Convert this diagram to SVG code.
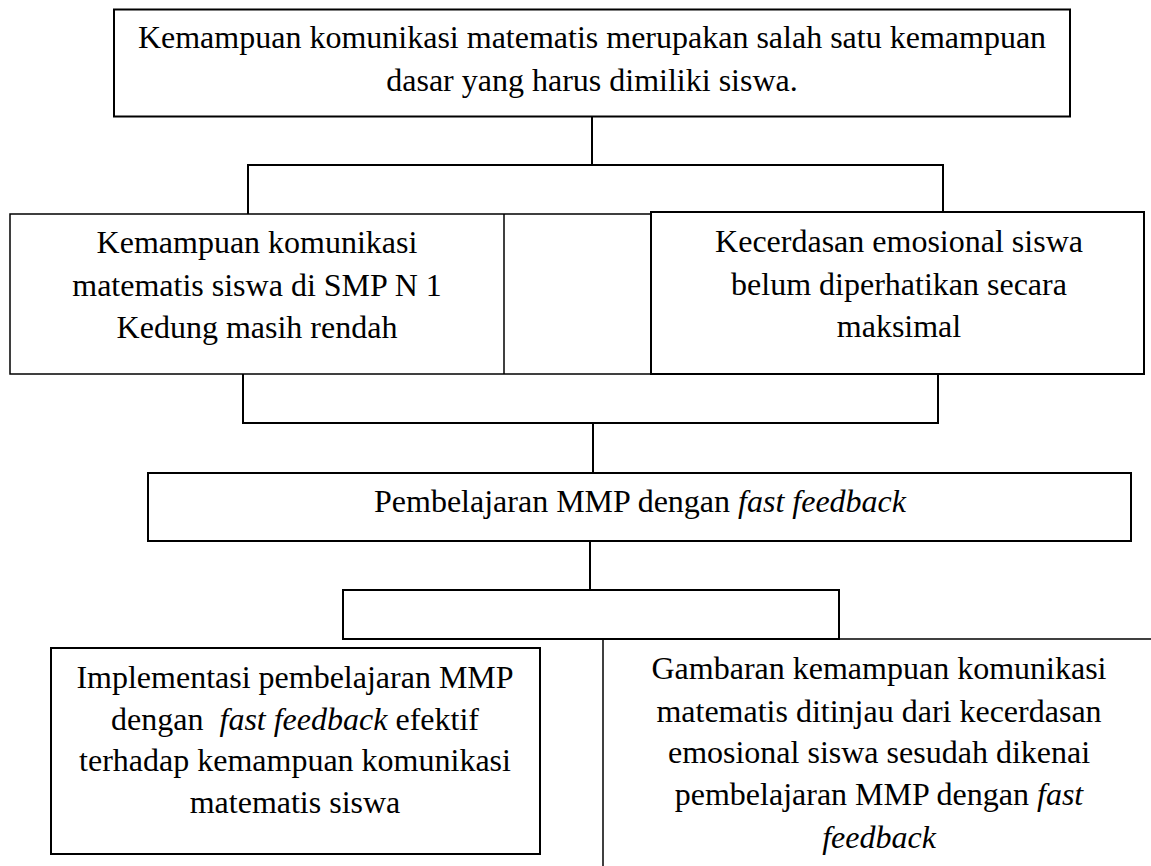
<svg xmlns="http://www.w3.org/2000/svg" width="1151" height="866" viewBox="0 0 1151 866">
<style>
.box{fill:#fff;stroke:#000;stroke-width:2}
.thin{fill:none;stroke:#000;stroke-width:1.5}
.ln{fill:none;stroke:#000;stroke-width:2}
text{font-family:"Liberation Serif","Times New Roman",serif;font-size:32px;fill:#000;text-anchor:middle}
.it{font-style:italic}
</style>
<rect width="1151" height="866" fill="#fff"/>
<g id="connectors">
<path class="ln" d="M592,116.5V165"/>
<path class="ln" d="M248,214V165H943V212"/>
<path class="ln" d="M243,374V423H938V374"/>
<path class="ln" d="M593,423V473"/>
<path class="ln" d="M590,541V590"/>
<rect class="box" x="343" y="590" width="496" height="49"/>
<path class="thin" d="M839,639H1151"/>
<path class="thin" d="M603,639V866"/>
</g>
<g id="node-top">
<rect class="box" x="114" y="9.5" width="956" height="107"/>
<text x="592" y="47.5">Kemampuan komunikasi matematis merupakan salah satu kemampuan</text>
<text x="592" y="91">dasar yang harus dimiliki siswa.</text>
</g>
<g id="node-left">
<rect class="thin" x="10" y="214" width="641" height="160"/>
<path class="thin" d="M504,214V374"/>
<text x="257" y="253">Kemampuan komunikasi</text>
<text x="257" y="296">matematis siswa di SMP N 1</text>
<text x="257" y="338">Kedung masih rendah</text>
</g>
<g id="node-right">
<rect class="box" x="651" y="212" width="493" height="162"/>
<text x="899" y="252">Kecerdasan emosional siswa</text>
<text x="899" y="295">belum diperhatikan secara</text>
<text x="899" y="337">maksimal</text>
</g>
<g id="node-mmp">
<rect class="box" x="148" y="473" width="983" height="68"/>
<text x="640" y="512">Pembelajaran MMP dengan <tspan class="it">fast feedback</tspan></text>
</g>
<g id="node-implementasi">
<rect class="box" x="51" y="648" width="489" height="206"/>
<text x="295" y="688">Implementasi pembelajaran MMP</text>
<text x="295" y="730">dengan <tspan class="it" dx="8">fast feedback</tspan> efektif</text>
<text x="295" y="771">terhadap kemampuan komunikasi</text>
<text x="295" y="813">matematis siswa</text>
</g>
<g id="node-gambaran">
<text x="879" y="679">Gambaran kemampuan komunikasi</text>
<text x="879" y="722">matematis ditinjau dari kecerdasan</text>
<text x="879" y="763">emosional siswa sesudah dikenai</text>
<text x="879" y="805">pembelajaran MMP dengan <tspan class="it">fast</tspan></text>
<text x="879" y="848" class="it">feedback</text>
</g>
</svg>
